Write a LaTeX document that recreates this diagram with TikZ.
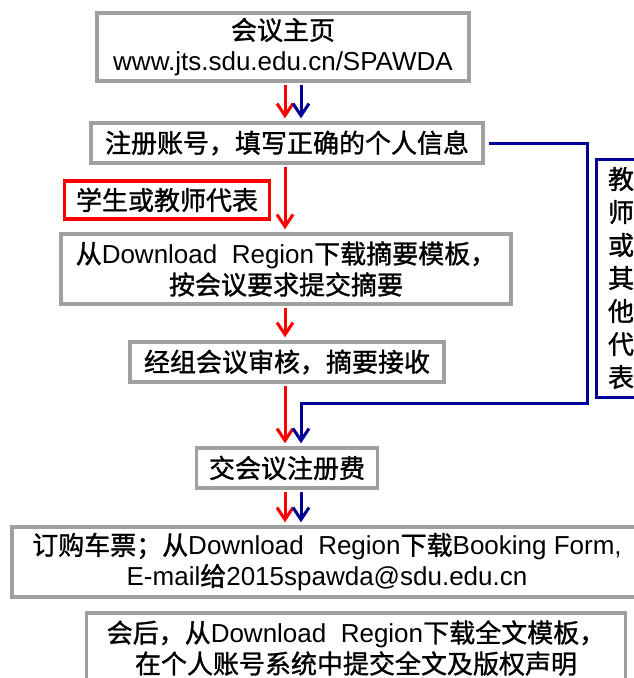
\documentclass[tikz,border=0pt]{standalone}
\usepackage[rgb]{xcolor}
\usepackage{fontspec}
\setmainfont{Liberation Sans}
\newfontfamily\cjk[FakeBold=1.2]{Noto Sans CJK SC}
\usetikzlibrary{arrows.meta}
\tikzset{>={Straight Barb[length=12pt,width=16pt]}}
\definecolor{boxgray}{RGB}{160,160,160}
\definecolor{pathblue}{RGB}{0,0,150}
\tikzstyle{stepbox}=[draw=boxgray,line width=3.5pt,inner sep=0pt,align=center,fill=white]
\tikzstyle{choicebox}=[stepbox,draw=red]
\tikzstyle{redflow}=[->,red,line width=3pt,shorten >=3pt,shorten <=2pt]
\tikzstyle{blueflow}=[->,pathblue,line width=3pt,shorten >=3pt,shorten <=2pt]
\newcommand{\zh}[1]{{\cjk #1}}

\begin{document}
\begin{tikzpicture}[x=1pt,y=-1pt,font=\fontsize{26}{31}\selectfont]
	\useasboundingbox (0,0) rectangle (634,678);
	
	% boxes, top to bottom
	\node[stepbox,minimum width=372pt,minimum height=68pt] (home) at (283,47)
		{\zh{会议主页}\\www.jts.sdu.edu.cn/SPAWDA};
	\node[stepbox,minimum width=392pt,minimum height=40pt] (reg) at (287,143)
		{\zh{注册账号，填写正确的个人信息}};
	\node[choicebox,minimum width=205pt,minimum height=38pt] (stu) at (167,200)
		{\zh{学生或教师代表}};
	\node[stepbox,minimum width=450pt,minimum height=70pt] (abs) at (286,269)
		{\zh{从}Download~~Region\zh{下载摘要模板，}\\\zh{按会议要求提交摘要}};
	\node[stepbox,minimum width=314pt,minimum height=40pt] (review) at (287,362)
		{\zh{经组会议审核，摘要接收}};
	\node[stepbox,minimum width=181pt,minimum height=40pt] (fee) at (287,468)
		{\zh{交会议注册费}};
	\node[stepbox,minimum width=630pt,minimum height=70pt] (ticket) at (327,562)
		{\zh{订购车票；从}Download~~Region\zh{下载}Booking Form,\\E-mail\zh{给}2015spawda@sdu.edu.cn};
	\node[stepbox,minimum width=539pt,minimum height=70pt] (paper) at (356,648)
		{\zh{会后，从}Download~~Region\zh{下载全文模板，}\\\zh{在个人账号系统中提交全文及版权声明}};
	\node[stepbox,draw=pathblue,line width=3pt,minimum width=50pt,minimum height=238pt,font=\fontsize{26}{33}\selectfont\cjk] (teacher) at (621,278)
		{教\\师\\或\\其\\他\\代\\表};
	
	% the two routes
	\coordinate (redline) at (285,0);
	\coordinate (blueline) at (301,0);
	\coordinate (bend) at (587,403);
	
	\draw[redflow] (home.south -| redline) -- (reg.north -| redline);
	\draw[blueflow] (home.south -| blueline) -- (reg.north -| blueline);
	\draw[redflow] (reg.south -| redline) -- (abs.north -| redline);
	\draw[redflow] (abs.south -| redline) -- (review.north -| redline);
	\draw[redflow] (review.south -| redline) -- (fee.north -| redline);
	\draw[blueflow,shorten <=4pt] (reg.east) -| (bend) -| (fee.north -| blueline);
	\draw[redflow] (fee.south -| redline) -- (ticket.north -| redline);
	\draw[blueflow] (fee.south -| blueline) -- (ticket.north -| blueline);
	
\end{tikzpicture}
\end{document}
